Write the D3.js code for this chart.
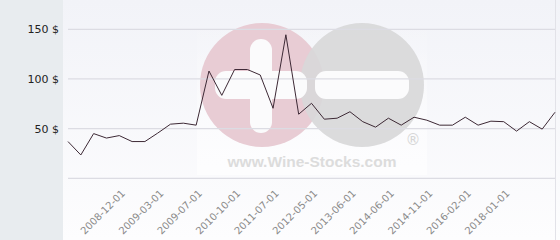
<!DOCTYPE html>
<html>
<head>
<meta charset="utf-8">
<script src="https://cdn.jsdelivr.net/npm/d3@7"></script>
<style>
  body { margin: 0; background: #ffffff; }
  svg { display: block; }
</style>
</head>
<body>
<script>
// price history of the wine, one value per auction date
var prices = [37, 23.5, 45, 40.5, 43, 37, 37, 45.5, 54.5, 55.5, 53.5,
              108, 83.5, 109.5, 109.5, 104, 70.5, 144.5, 64.5, 75.5,
              59.5, 60.5, 67, 57, 51.5, 60.5, 53.5, 61.5, 58.5, 53.5,
              53.5, 61.5, 53.5, 57.5, 57, 47.5, 57, 49.5, 66.5];

// dates shown under the axis (every third point from the fifth one)
var tickLabels = ["2008-12-01", "2009-03-01", "2009-07-01", "2010-10-01",
                  "2011-07-01", "2012-05-01", "2013-06-01", "2014-06-01",
                  "2014-11-01", "2016-02-01", "2018-01-01"];
var firstTick = 4;
var tickStep = 3;

var yTicks = [0, 50, 100, 150];

var w = 560;
var h = 240;
var margins = {left: 68, right: 5, upper: 29.3, lower: 61.7, panel: 63};

var svg = d3.select("body")
            .append("svg")
            .attr("width", w)
            .attr("height", h);

var defs = svg.append("defs");
var grad = defs.append("linearGradient")
               .attr("id", "plotbg")
               .attr("x1", 0).attr("y1", 0)
               .attr("x2", 0).attr("y2", 1);
grad.append("stop").attr("offset", "0%").attr("stop-color", "#f2f3f8");
grad.append("stop").attr("offset", "100%").attr("stop-color", "#fdfdfe");

// fade for the white box behind the watermark
var fade = defs.append("linearGradient")
               .attr("id", "logobg")
               .attr("x1", 0).attr("y1", 0)
               .attr("x2", 0).attr("y2", 1);
fade.append("stop").attr("offset", "0%").attr("stop-color", "#ffffff").attr("stop-opacity", 0);
fade.append("stop").attr("offset", "100%").attr("stop-color", "#ffffff").attr("stop-opacity", 0.7);

// left gray panel and plot background
svg.append("rect")
   .attr("width", margins.panel)
   .attr("height", h)
   .attr("fill", "#e8ecef");
svg.append("rect")
   .attr("x", margins.panel)
   .attr("width", w - margins.panel)
   .attr("height", h)
   .attr("fill", "url(#plotbg)");
svg.append("line")
   .attr("x1", w - margins.right + 0.5)
   .attr("x2", w - margins.right + 0.5)
   .attr("y1", 0)
   .attr("y2", h)
   .attr("stroke", "#e2e2e8");

var xScale = d3.scalePoint()
               .domain(d3.range(prices.length))
               .range([margins.left, w - margins.right]);
var yScale = d3.scaleLinear()
               .domain([0, 150])
               .range([h - margins.lower, margins.upper]);

drawLogo();
drawGrid();
drawLine();
drawLabels();

function drawLogo() {
  /* faded wine-stocks watermark behind the line */
  var logo = svg.append("g").attr("class", "logo");

  logo.append("rect")
      .attr("x", 197).attr("y", 20)
      .attr("width", 230).attr("height", 155)
      .attr("fill", "url(#logobg)");

  logo.append("circle")
      .attr("cx", 262).attr("cy", 85).attr("r", 62)
      .attr("fill", "#e8ccd4");
  logo.append("circle")
      .attr("cx", 362).attr("cy", 85).attr("r", 62)
      .attr("fill", "#d8d8d9")
      .attr("opacity", 0.92);

  // the plus and the minus
  var bars = [[250, 39, 22, 94], [215, 71, 92, 28], [315, 71, 94, 28]];
  logo.selectAll(".bar")
      .data(bars)
      .enter()
      .append("rect")
      .attr("class", "bar")
      .attr("x", function(d) { return d[0]; })
      .attr("y", function(d) { return d[1]; })
      .attr("width", function(d) { return d[2]; })
      .attr("height", function(d) { return d[3]; })
      .attr("rx", 11)
      .attr("fill", "#fbfbfc");

  logo.append("text")
      .attr("x", 312).attr("y", 167)
      .attr("text-anchor", "middle")
      .style("font-family", "Liberation Sans, Arial, sans-serif")
      .style("font-weight", "bold")
      .style("font-size", "15.5px")
      .attr("fill", "#dcdcdc")
      .text("www.Wine-Stocks.com");

  logo.append("text")
      .attr("x", 413).attr("y", 145)
      .attr("text-anchor", "middle")
      .style("font-family", "DejaVu Sans, sans-serif")
      .style("font-size", "15px")
      .attr("fill", "#d6d6d6")
      .text("\u00ae");
}

function drawGrid() {
  /* horizontal grid lines and the y labels */
  svg.selectAll(".grid")
     .data(yTicks)
     .enter()
     .append("line")
     .attr("class", "grid")
     .attr("x1", margins.left)
     .attr("x2", w - margins.right)
     .attr("y1", function(d) { return yScale(d); })
     .attr("y2", function(d) { return yScale(d); })
     .attr("stroke", "#dcdce3")
     .attr("stroke-width", 1.2);

  var yAxis = svg.append("g")
                 .attr("class", "yaxis")
                 .attr("transform", "translate(" + margins.left + ",0)")
                 .call(d3.axisLeft(yScale)
                         .tickValues(yTicks.filter(function(d) { return d > 0; }))
                         .tickSize(0)
                         .tickPadding(9)
                         .tickFormat(function(d) { return d + " $"; }));
  yAxis.select(".domain").remove();
  yAxis.selectAll("text")
       .style("font-family", "DejaVu Sans, sans-serif")
       .style("font-size", "11px")
       .attr("fill", "#222222");
}

function drawLine() {
  var line = d3.line()
               .x(function(d, i) { return xScale(i); })
               .y(function(d) { return yScale(d); });

  svg.append("path")
     .datum(prices)
     .attr("d", line)
     .attr("fill", "none")
     .attr("stroke", "#3d2935")
     .attr("stroke-width", 1);
}

function drawLabels() {
  /* rotated date labels under the plot */
  svg.selectAll(".xlabel")
     .data(tickLabels)
     .enter()
     .append("text")
     .attr("class", "xlabel")
     .attr("transform", function(d, i) {
        var x = xScale(firstTick + i * tickStep) + 4;
        return "translate(" + x + "," + 191.5 + ") rotate(-45)";
     })
     .attr("dy", "0.35em")
     .attr("text-anchor", "end")
     .style("font-family", "DejaVu Sans, sans-serif")
     .style("font-size", "10px")
     .attr("fill", "#8a8a8a")
     .text(function(d) { return d; });
}
</script>
</body>
</html>
